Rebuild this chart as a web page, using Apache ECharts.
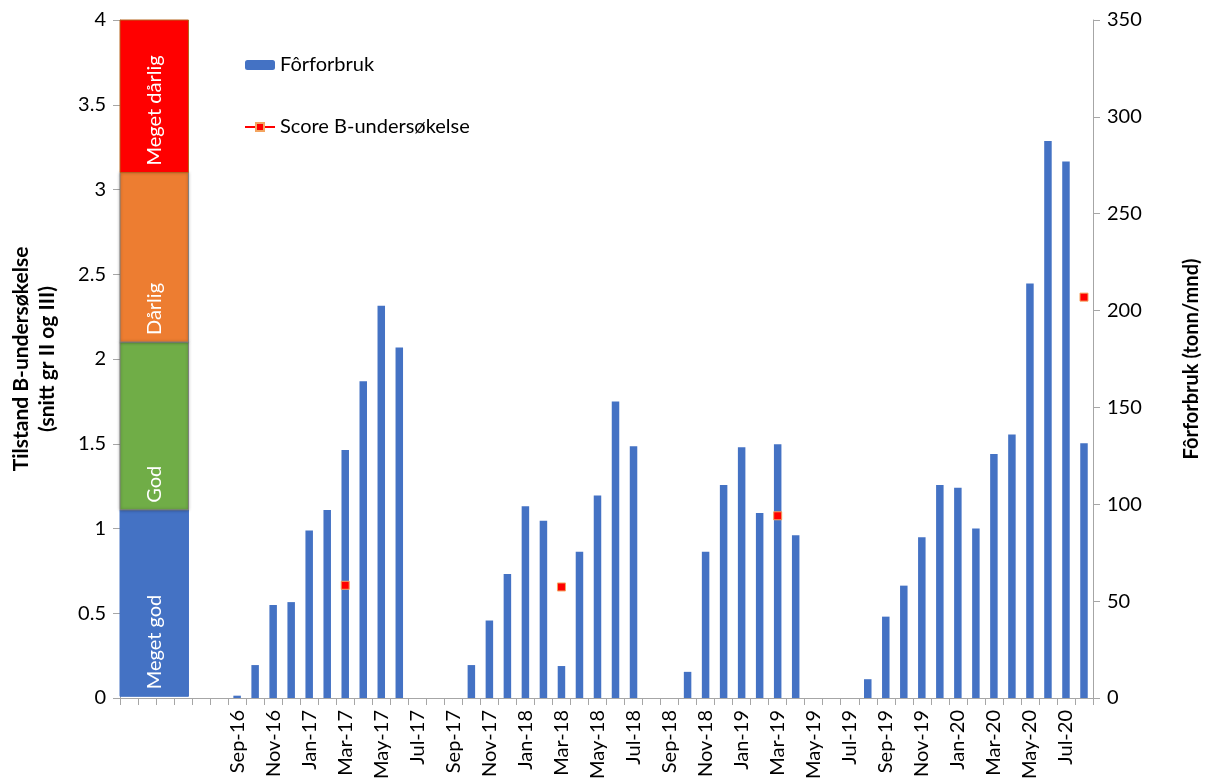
<!DOCTYPE html>
<html>
<head>
<meta charset="utf-8">
<script src="https://cdn.jsdelivr.net/npm/echarts@6/dist/echarts.min.js"></script>
<style>
  html, body { margin: 0; padding: 0; background: #ffffff; }
  #chart { width: 1210px; height: 782px; }
</style>
</head>
<body>
<div id="chart"></div>
<script>
// Month categories (six unlabeled slots in front hold the condition scale)
const months = [
  '', '', '', '', '', '',
  'Sep-16', 'Oct-16', 'Nov-16', 'Dec-16',
  'Jan-17', 'Feb-17', 'Mar-17', 'Apr-17', 'May-17', 'Jun-17', 'Jul-17', 'Aug-17', 'Sep-17', 'Oct-17', 'Nov-17', 'Dec-17',
  'Jan-18', 'Feb-18', 'Mar-18', 'Apr-18', 'May-18', 'Jun-18', 'Jul-18', 'Aug-18', 'Sep-18', 'Oct-18', 'Nov-18', 'Dec-18',
  'Jan-19', 'Feb-19', 'Mar-19', 'Apr-19', 'May-19', 'Jun-19', 'Jul-19', 'Aug-19', 'Sep-19', 'Oct-19', 'Nov-19', 'Dec-19',
  'Jan-20', 'Feb-20', 'Mar-20', 'Apr-20', 'May-20', 'Jun-20', 'Jul-20', 'Aug-20'
];

// Monthly feed use, tonnes per month
const feedUse = [
  null, null, null, null, null, null,
  1.2, 17, 48, 49.5,
  86.5, 97, 128, 163.5, 202.5, 181, null, null, null, 17, 40, 64,
  99, 91.5, 16.5, 75.5, 104.5, 153, 130, null, null, 13.5, 75.5, 110,
  129.5, 95.5, 131, 84, null, null, null, 9.7, 42, 58, 83, 110,
  108.5, 87.5, 126, 136, 214, 287.5, 277, 131.5
];

// B-survey score (mean of group II and III)
const bScore = [
  null, null, null, null, null, null,
  null, null, null, null,
  null, null, 0.665, null, null, null, null, null, null, null, null, null,
  null, null, 0.655, null, null, null, null, null, null, null, null, null,
  null, null, 1.075, null, null, null, null, null, null, null, null, null,
  null, null, null, null, null, null, null, 2.365
];

// Condition classes on the score scale
const classNames = ['Meget god', 'God', 'Dårlig', 'Meget dårlig'];
const classLower = [0.01, 1.11, 2.1, 3.1];
const classUpper = [1.11, 2.1, 3.1, 4];

const classFill = ['#4472C4', '#70AD47', '#ED7D31', '#FF0000'];
const classEdge = ['#4472C4', '#7f7f7f', '#7f7f7f', '#b5651d'];
const SCALE_SPAN = 3.8; // width of the class column, in month slots

const FONT = 'Lato, "Open Sans", sans-serif';
const AXIS_GREY = '#a6a6a6';

const chart = echarts.init(document.getElementById('chart'), null, { renderer: 'canvas' });

chart.setOption({
  animation: false,
  backgroundColor: '#ffffff',
  textStyle: { fontFamily: FONT, color: '#000' },
  grid: { left: 117, right: 114, top: 20, bottom: 84, containLabel: false },
  legend: {
    orient: 'vertical',
    left: 239,
    top: 50,
    itemGap: 42,
    itemWidth: 30,
    itemHeight: 10,
    textStyle: { fontFamily: FONT, fontSize: 20, color: '#000' },
    data: ['Fôrforbruk', 'Score B-undersøkelse']
  },
  xAxis: [
    {
      type: 'category',
      data: months,
      boundaryGap: true,
      axisLine: { lineStyle: { color: AXIS_GREY, width: 1 } },
      axisTick: { show: true, interval: 0, length: 7, lineStyle: { color: AXIS_GREY } },
      axisLabel: {
        interval: 1,
        rotate: 90,
        margin: 12,
        fontFamily: FONT,
        fontSize: 20,
        color: '#000'
      },
      splitLine: { show: false }
    },
    {
      type: 'value',
      min: 0,
      max: months.length,
      show: false
    }
  ],
  yAxis: [
    {
      type: 'value',
      min: 0,
      max: 4,
      interval: 0.5,
      position: 'left',
      name: 'Tilstand B-undersøkelse\n(snitt gr II og III)',
      nameLocation: 'middle',
      nameRotate: 90,
      nameGap: 60,
      nameTextStyle: { fontFamily: FONT, fontSize: 21, fontWeight: 'bold', color: '#000', lineHeight: 26 },
      axisLine: { show: true, lineStyle: { color: AXIS_GREY } },
      axisTick: { show: true, length: 7, lineStyle: { color: AXIS_GREY } },
      axisLabel: { fontFamily: FONT, fontSize: 20, color: '#000', margin: 14 },
      splitLine: { show: false }
    },
    {
      type: 'value',
      min: 0,
      max: 350,
      interval: 50,
      position: 'right',
      name: 'Fôrforbruk (tonn/mnd)',
      nameLocation: 'middle',
      nameRotate: 90,
      nameGap: 89,
      nameTextStyle: { fontFamily: FONT, fontSize: 20, fontWeight: 'bold', color: '#000' },
      axisLine: { show: true, lineStyle: { color: AXIS_GREY } },
      axisTick: { show: true, length: 7, lineStyle: { color: AXIS_GREY } },
      axisLabel: { fontFamily: FONT, fontSize: 20, color: '#000', margin: 14 },
      splitLine: { show: false }
    }
  ],
  series: [
    {
      name: 'Tilstandsklasser',
      type: 'custom',
      xAxisIndex: 1,
      yAxisIndex: 0,
      silent: true,
      z: 1,
      data: classNames.map((n, i) => [classLower[i], classUpper[i], n]),
      renderItem: function (params, api) {
        const i = params.dataIndex;
        const lo = api.value(0);
        const hi = api.value(1);
        const pBottom = api.coord([0, lo]);
        const pTop = api.coord([SCALE_SPAN, hi]);
        const x = pBottom[0];
        const w = pTop[0] - pBottom[0];
        const yTop = pTop[1];
        const h = pBottom[1] - pTop[1];
        return {
          type: 'group',
          children: [
            {
              type: 'rect',
              shape: { x: x, y: yTop, width: w, height: h },
              style: {
                fill: classFill[i],
                stroke: classEdge[i],
                lineWidth: 1,
                shadowBlur: i === 1 || i === 2 ? 3 : 0,
                shadowColor: 'rgba(0,0,0,0.35)'
              }
            },
            {
              type: 'text',
              x: x + w / 2,
              y: pBottom[1] - 7,
              rotation: Math.PI / 2,
              style: {
                text: classNames[i],
                fill: '#ffffff',
                font: '20px ' + FONT,
                align: 'left',
                verticalAlign: 'middle'
              }
            }
          ]
        };
      }
    },
    {
      name: 'Fôrforbruk',
      type: 'bar',
      xAxisIndex: 0,
      yAxisIndex: 1,
      data: feedUse,
      barWidth: 7.5,
      itemStyle: { color: '#4472C4' },
      z: 2
    },
    {
      name: 'Score B-undersøkelse',
      type: 'line',
      xAxisIndex: 0,
      yAxisIndex: 0,
      data: bScore,
      connectNulls: false,
      symbol: 'rect',
      symbolSize: 8,
      showAllSymbol: true,
      lineStyle: { color: '#FF0000', width: 2 },
      itemStyle: { color: '#FF0000', borderColor: '#F4A460', borderWidth: 1 },
      z: 3
    }
  ]
});
</script>
</body>
</html>
